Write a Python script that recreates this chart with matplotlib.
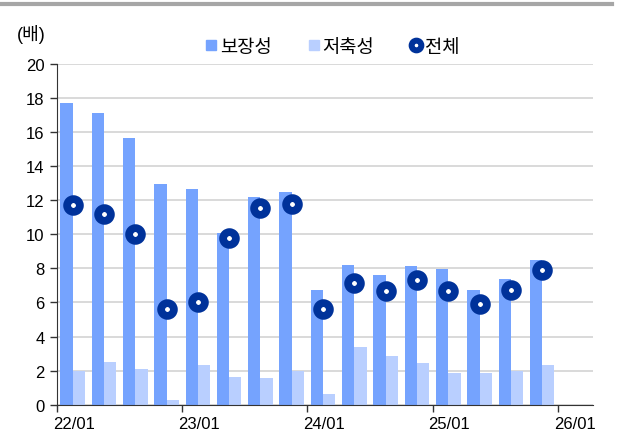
import matplotlib
matplotlib.use("Agg")
import matplotlib.pyplot as plt
from matplotlib.lines import Line2D
import matplotlib.transforms as mtransforms
import numpy as np
from matplotlib import font_manager

names = {f.name for f in font_manager.fontManager.ttflist}
fam = []
for n in ["Liberation Sans Narrow", "Liberation Sans"]:
    if n in names:
        fam.append(n)
        break
fam += ["Noto Sans CJK KR", "DejaVu Sans"]
plt.rcParams['font.family'] = fam

quarters = ["22/01", "22/04", "22/07", "22/10", "23/01", "23/04", "23/07", "23/10",
            "24/01", "24/04", "24/07", "24/10", "25/01", "25/04", "25/07", "25/10"]
protection = [17.73, 17.14, 15.63, 12.96, 12.67, 10.1, 12.2, 12.47,
              6.73, 8.22, 7.62, 8.14, 7.99, 6.72, 7.40, 8.5]
savings = [1.96, 2.53, 2.12, 0.27, 2.35, 1.65, 1.55, 1.98,
           0.63, 3.37, 2.87, 2.42, 1.84, 1.84, 1.95, 2.32]
total = [11.75, 11.2, 10.0, 5.63, 6.04, 9.80, 11.57, 11.8,
         5.61, 7.14, 6.66, 7.32, 6.66, 5.94, 6.74, 7.91]
xtick_labels = ["22/01", "23/01", "24/01", "25/01", "26/01"]
series_names = ["보장성", "저축성", "전체"]

c_blue = "#75A3FE"
c_light = "#B9CFFF"
c_navy = "#00329A"

fig = plt.figure(figsize=(6.18, 4.39), dpi=100)
ax = fig.add_axes([57/618, 1-405.7/439, (593-57)/618, (405.7-65)/439])

x = np.arange(len(quarters)) + 0.5
w = 0.393
ax.bar(x - w/2, protection, width=w, color=c_blue, zorder=2)
ax.bar(x + w/2, savings, width=w, color=c_light, zorder=2)
ax.plot(x, total, linestyle='none', marker='o', markersize=9.2,
        markerfacecolor='white', markeredgecolor=c_navy, markeredgewidth=5.6, zorder=3)

ax.set_ylim(0, 20)
ax.set_xlim(0, (593-57)/31.3)
ax.set_yticks(np.arange(0, 21, 2))
ax.yaxis.grid(True, color="#D9D9D9", linewidth=1.4, zorder=0)
ax.set_axisbelow(True)
ax.set_xticks(np.arange(0, 17, 4))
ax.set_xticklabels(xtick_labels, ha='left')
ax.tick_params(axis='x', length=5, width=1, color="#333333", labelsize=12, pad=3)
ax.tick_params(axis='y', length=5, width=1, color="#333333", labelsize=12, pad=4)
for s in ["top", "right"]:
    ax.spines[s].set_visible(False)
ax.spines["left"].set_color("#333333")
ax.spines["bottom"].set_color("#333333")
offset = mtransforms.ScaledTranslation(-3/72, 0, fig.dpi_scale_trans)
for lbl in ax.get_xticklabels():
    lbl.set_transform(lbl.get_transform() + offset)

fig.text(17/618, 1-35/439, "(배)", fontsize=13, va='center', ha='left')

handles = [Line2D([0], [0], linestyle='none', marker='s', markersize=6.5, color=c_blue),
           Line2D([0], [0], linestyle='none', marker='s', markersize=6.5, color=c_light),
           Line2D([0], [0], linestyle='none', marker='o', markersize=7,
                  markerfacecolor='white', markeredgecolor=c_navy, markeredgewidth=4.3)]
fig.legend(handles, series_names, loc='center', bbox_to_anchor=(332/618, 1-48/439),
           ncol=3, frameon=False, fontsize=13.5, handlelength=0.7, handletextpad=0.1,
           columnspacing=1.9)

fig.add_artist(Line2D([0, 612/618], [1-5/439, 1-5/439], transform=fig.transFigure,
                      color="#A6A6A6", linewidth=3))

fig.savefig("out.png", dpi=100)
